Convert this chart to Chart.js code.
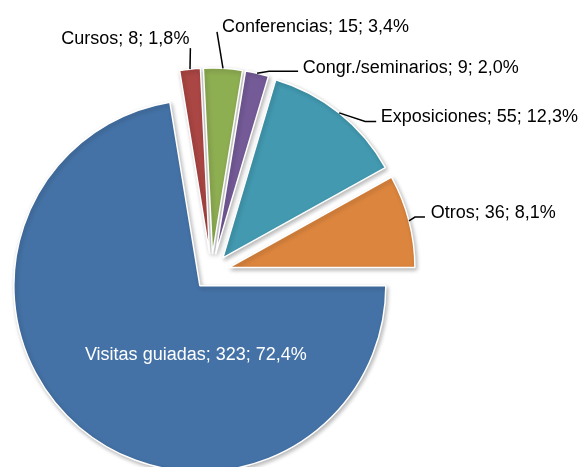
<!DOCTYPE html>
<html>
<head>
<meta charset="utf-8">
<script src="https://cdn.jsdelivr.net/npm/chart.js@4.4.0/dist/chart.umd.min.js"></script>
<style>
html,body{margin:0;padding:0;background:#ffffff;}
#wrap{width:586px;height:467px;position:relative;}
canvas{display:block;}
</style>
</head>
<body>
<div id="wrap"><canvas id="c" width="586" height="467"></canvas></div>
<script>
// ---- data ----
const categories = ['Visitas guiadas', 'Cursos', 'Conferencias', 'Congr./seminarios', 'Exposiciones', 'Otros'];
const values = [323, 8, 15, 9, 55, 36];
const sliceColors = ['#4472A6', '#AA4643', '#8EAE52', '#745A97', '#4299B0', '#DC853E'];

const total = values.reduce((a, b) => a + b, 0);
const labelTexts = categories.map((c, i) =>
  c + '; ' + values[i] + '; ' + (values[i] / total * 100).toFixed(1).replace('.', ',') + '%');

const FONT = '18px "Liberation Sans", Arial, sans-serif';

// explode every slice outward along its mid-angle
const explodePlugin = {
  id: 'explode',
  afterDatasetsUpdate(chart, args, opts) {
    const meta = chart.getDatasetMeta(0);
    meta.data.forEach(arc => {
      const mid = (arc.startAngle + arc.endAngle) / 2;
      arc.x += Math.cos(mid) * opts.distance;
      arc.y += Math.sin(mid) * opts.distance;
    });
  }
};

const shadowPlugin = {
  id: 'sliceShadow',
  beforeDatasetsDraw(chart) {
    const ctx = chart.ctx;
    ctx.save();
    ctx.shadowColor = 'rgba(0,0,0,0.28)';
    ctx.shadowBlur = 4;
    ctx.shadowOffsetX = 1.5;
    ctx.shadowOffsetY = 2;
  },
  afterDatasetsDraw(chart) {
    chart.ctx.restore();
  }
};

// label placements relative to the slice's outer mid point
const labelPlugin = {
  id: 'leaderLabels',
  afterDraw(chart, args, opts) {
    const ctx = chart.ctx;
    const meta = chart.getDatasetMeta(0);
    ctx.save();
    ctx.font = FONT;
    ctx.textBaseline = 'alphabetic';
    meta.data.forEach((arc, i) => {
      const mid = (arc.startAngle + arc.endAngle) / 2;
      const spec = opts.specs[i];
      if (spec.inside) {
        ctx.fillStyle = '#ffffff';
        ctx.textAlign = 'center';
        ctx.fillText(labelTexts[i], arc.x + spec.text[0], arc.y + spec.text[1]);
        return;
      }
      const px = arc.x + Math.cos(mid) * arc.outerRadius;
      const py = arc.y + Math.sin(mid) * arc.outerRadius;
      ctx.strokeStyle = '#000000';
      ctx.lineWidth = 1.5;
      ctx.beginPath();
      ctx.moveTo(px, py);
      spec.path.forEach(p => ctx.lineTo(px + p[0], py + p[1]));
      ctx.stroke();
      ctx.fillStyle = '#000000';
      ctx.textAlign = spec.align;
      ctx.fillText(labelTexts[i], px + spec.text[0], py + spec.text[1]);
    });
    ctx.restore();
  }
};

new Chart(document.getElementById('c'), {
  type: 'pie',
  data: {
    labels: categories,
    datasets: [{
      data: values,
      backgroundColor: sliceColors,
      borderColor: '#ffffff',
      borderWidth: 1.5,
      radius: 186,
      clip: false
    }]
  },
  options: {
    responsive: false,
    animation: false,
    rotation: 90,
    layout: { padding: { left: 0, right: 163, top: 77, bottom: 0 } },
    events: [],
    plugins: {
      legend: { display: false },
      tooltip: { enabled: false },
      explode: { distance: 18 },
      leaderLabels: {
        specs: [
          { inside: true, text: [-4, 74.5] },
          { path: [[0.4, -21]], text: [-0.6, -25], align: 'right' },
          { path: [[-6, -36.4]], text: [-1, -36], align: 'left' },
          { path: [[12, -2], [41, -2]], text: [45.6, 0.3], align: 'left' },
          { path: [[26, 8.6], [37, 8.6]], text: [41.6, 9.3], align: 'left' },
          { path: [[6, -3.8], [16, -3.8]], text: [21.7, -2.8], align: 'left' }
        ]
      }
    }
  },
  plugins: [explodePlugin, shadowPlugin, labelPlugin]
});
</script>
</body>
</html>
